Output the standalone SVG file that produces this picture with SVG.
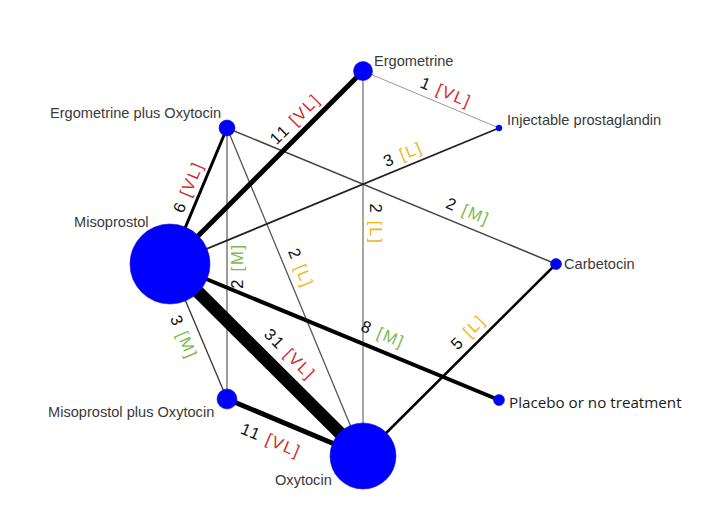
<svg xmlns="http://www.w3.org/2000/svg" width="726" height="528" viewBox="0 0 726 528">
<style>
.node{fill:#0000ff;stroke:#1010c0;stroke-width:0.6}
.nl{font-family:"Liberation Sans",Arial,sans-serif;font-size:14.6px;fill:#3a3a3a}
.pl{font-family:"Open Sans","Liberation Sans",sans-serif;font-size:15.2px;fill:#1a1a1a}
.el{font-family:"Liberation Sans",Arial,sans-serif;font-size:16.5px;fill:#111;letter-spacing:1.8px;text-anchor:middle}
.vl{fill:#d42a2a}.l{fill:#f2b51c}.m{fill:#78bc4a}
.e{fill:none;stroke-linecap:butt}
</style>
<rect width="726" height="528" fill="#fff"/>
<g id="connectors">
<line class="e" x1="363" y1="71" x2="499" y2="128" stroke="#9a9a9a" stroke-width="1"/>
<line class="e" x1="363" y1="71" x2="363" y2="456" stroke="#777" stroke-width="1.3"/>
<line class="e" x1="227" y1="128" x2="227" y2="399" stroke="#666" stroke-width="1.3"/>
<line class="e" x1="227" y1="128" x2="556" y2="264" stroke="#444" stroke-width="1.5"/>
<line class="e" x1="227" y1="128" x2="363" y2="456" stroke="#555" stroke-width="1.3"/>
<line class="e" x1="170" y1="264" x2="499" y2="128" stroke="#222" stroke-width="1.8"/>
<line class="e" x1="170" y1="264" x2="227" y2="399" stroke="#333" stroke-width="1.3"/>
<line class="e" x1="363" y1="456" x2="556" y2="264" stroke="#000" stroke-width="2.5"/>
<line class="e" x1="227" y1="128" x2="170" y2="264" stroke="#000" stroke-width="3"/>
<line class="e" x1="170" y1="264" x2="499" y2="400" stroke="#000" stroke-width="4"/>
<line class="e" x1="227" y1="399" x2="363" y2="456" stroke="#000" stroke-width="5"/>
<line class="e" x1="363" y1="71" x2="170" y2="264" stroke="#000" stroke-width="5"/>
<line class="e" x1="170" y1="264" x2="363" y2="456" stroke="#000" stroke-width="13"/>
</g>
<g id="edge-labels">
<text class="el" transform="translate(446,92) rotate(22.7)" dy="0.35em">1 <tspan class="vl">[VL]</tspan></text>
<text class="el" transform="translate(295,119) rotate(-45)" dy="0.35em">11 <tspan class="vl">[VL]</tspan></text>
<text class="el" transform="translate(376,224) rotate(90)" dy="0.35em">2 <tspan class="l">[L]</tspan></text>
<text class="el" transform="translate(188,187) rotate(-67.3)" dy="0.35em">6 <tspan class="vl">[VL]</tspan></text>
<text class="el" transform="translate(237,266) rotate(-90)" dy="0.35em">2 <tspan class="m">[M]</tspan></text>
<text class="el" transform="translate(468,211) rotate(22.5)" dy="0.35em">2 <tspan class="m">[M]</tspan></text>
<text class="el" transform="translate(301,268) rotate(67.5)" dy="0.35em">2 <tspan class="l">[L]</tspan></text>
<text class="el" transform="translate(403,154) rotate(-22.5)" dy="0.35em">3 <tspan class="l">[L]</tspan></text>
<text class="el" transform="translate(184,337) rotate(67)" dy="0.35em">3 <tspan class="m">[M]</tspan></text>
<text class="el" transform="translate(290,354) rotate(45)" dy="0.35em">31 <tspan class="vl">[VL]</tspan></text>
<text class="el" transform="translate(383,334) rotate(22.5)" dy="0.35em">8 <tspan class="m">[M]</tspan></text>
<text class="el" transform="translate(271,440) rotate(22.7)" dy="0.35em">11 <tspan class="vl">[VL]</tspan></text>
<text class="el" transform="translate(468,332) rotate(-45)" dy="0.35em">5 <tspan class="l">[L]</tspan></text>
</g>
<g id="node-ergometrine"><circle class="node" cx="363" cy="71" r="9.5"/><text class="nl" x="374" y="66">Ergometrine</text></g>
<g id="node-ergometrine-plus-oxytocin"><circle class="node" cx="227" cy="128" r="8"/><text class="nl" x="50" y="118">Ergometrine plus Oxytocin</text></g>
<g id="node-injectable-prostaglandin"><circle class="node" cx="499" cy="128" r="3"/><text class="nl" x="507" y="125">Injectable prostaglandin</text></g>
<g id="node-misoprostol"><circle class="node" cx="170" cy="264" r="40"/><text class="nl" x="74" y="227">Misoprostol</text></g>
<g id="node-carbetocin"><circle class="node" cx="556" cy="264" r="5.5"/><text class="nl" x="564" y="269">Carbetocin</text></g>
<g id="node-misoprostol-plus-oxytocin"><circle class="node" cx="227" cy="399" r="10"/><text class="nl" x="48" y="417">Misoprostol plus Oxytocin</text></g>
<g id="node-placebo"><circle class="node" cx="499" cy="400" r="5.5"/><text class="pl" x="509" y="408">Placebo or no treatment</text></g>
<g id="node-oxytocin"><circle class="node" cx="363" cy="456" r="33"/><text class="nl" x="275" y="485">Oxytocin</text></g>
</svg>
